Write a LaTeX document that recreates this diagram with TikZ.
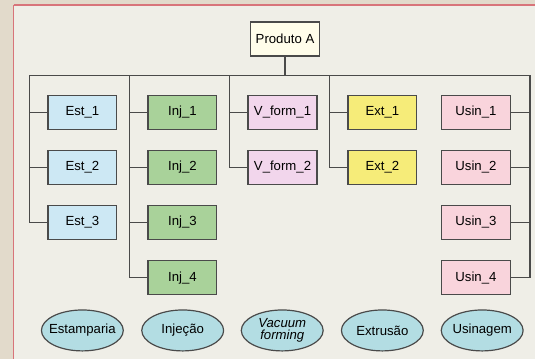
\documentclass[tikz,border=0pt]{standalone}
\usepackage{fontspec}
\setmainfont{Liberation Sans}
\usetikzlibrary{positioning, shapes.geometric}
\definecolor{pagebg}{HTML}{E2DACB}
\definecolor{innerbg}{HTML}{EFEEE7}
\definecolor{rim}{HTML}{D8747A}
\definecolor{linegray}{HTML}{4A4A4A}
\definecolor{estc}{HTML}{CDE8F4}
\definecolor{injc}{HTML}{A9D29A}
\definecolor{vfc}{HTML}{F2D6EC}
\definecolor{extc}{HTML}{F6EC79}
\definecolor{usc}{HTML}{F9D4DC}
\definecolor{prodc}{HTML}{FFFDEA}
\definecolor{procc}{HTML}{B3DDE3}

\begin{document}
\begin{tikzpicture}[x=1pt, y=-1pt,
     node distance = 20pt and 30pt,
         font = \fontsize{13.2}{14}\selectfont,
      item/.style = {rectangle, draw=linegray, line width=1.2pt, minimum width=69pt, minimum height=34pt, inner sep=1pt},
      proc/.style = {ellipse, draw=linegray, line width=1.2pt, fill=procc, minimum width=82pt, minimum height=41pt, inner xsep=-6pt, inner ysep=0pt, align=center},
      tree/.style = {draw=linegray, line width=1.3pt}
                        ]
% background
\fill[pagebg] (0,0) rectangle (536,360);
\fill[innerbg] (14,5) rectangle (536,360);
\draw[rim, line width=1.8pt] (14,5) -- (536,5);
\draw[rim, line width=1pt] (14,5) -- (14,360);
\useasboundingbox (0,0) rectangle (536,360);
% top
\node (prod) [item, fill=prodc] at (285.5,39) {Produto A};
% Estamparia
\node (est1) [item, fill=estc] at (82.5,112.5) {Est\_1};
\node (est2) [item, fill=estc, below =of est1] {Est\_2};
\node (est3) [item, fill=estc, below =of est2] {Est\_3};
% Injecao
\node (inj1) [item, fill=injc] at (182.7,112.5) {Inj\_1};
\node (inj2) [item, fill=injc, below =of inj1] {Inj\_2};
\node (inj3) [item, fill=injc, below =of inj2] {Inj\_3};
\node (inj4) [item, fill=injc, below =of inj3] {Inj\_4};
% vacuum forming
\node (vf1) [item, fill=vfc] at (283,112.5) {V\_form\_1};
\node (vf2) [item, fill=vfc, below =of vf1] {V\_form\_2};
% Extrusao
\node (ext1) [item, fill=extc] at (383,112.5) {Ext\_1};
\node (ext2) [item, fill=extc, below =of ext1] {Ext\_2};
% Usinagem
\node (us1) [item, fill=usc] at (476.7,112.5) {Usin\_1};
\node (us2) [item, fill=usc, below =of us1] {Usin\_2};
\node (us3) [item, fill=usc, below =of us2] {Usin\_3};
\node (us4) [item, fill=usc, below =of us3] {Usin\_4};
% processes
\node (pest) [proc] at (82.5,331) {Estamparia};
\node (pinj) [proc] at (183,331) {Injeção};
\node (pvf)  [proc, font=\fontsize{13.2}{12.5}\selectfont\itshape] at (282.7,331) {Vacuum\\forming};
\node (pext) [proc] at (383,331) {Extrusão};
\node (pus)  [proc] at (483,331) {Usinagem};
% tree lines
\coordinate (busE) at (29.3,75.3);
\coordinate (busI) at (130,75.3);
\coordinate (busV) at (230,75.3);
\coordinate (busX) at (330.3,75.3);
\coordinate (busU) at (531,75.3);
\draw[tree] (prod.south) -- (prod.south |- busE);
\draw[tree] (busE) -- (busU);
\draw[tree] (busE) |- (est3.west);
\draw[tree] (busI) |- (inj4.west);
\draw[tree] (busV) |- (vf2.west);
\draw[tree] (busX) |- (ext2.west);
\draw[tree] (busU) |- (us4.east);
\foreach \n in {est1,est2}
  \draw[tree] (\n.west) -- (\n.west -| busE);
\foreach \n in {inj1,inj2,inj3}
  \draw[tree] (\n.west) -- (\n.west -| busI);
\draw[tree] (vf1.west) -- (vf1.west -| busV);
\draw[tree] (ext1.west) -- (ext1.west -| busX);
\foreach \n in {us1,us2,us3}
  \draw[tree] (\n.east) -- (\n.east -| busU);
\end{tikzpicture}
\end{document}
